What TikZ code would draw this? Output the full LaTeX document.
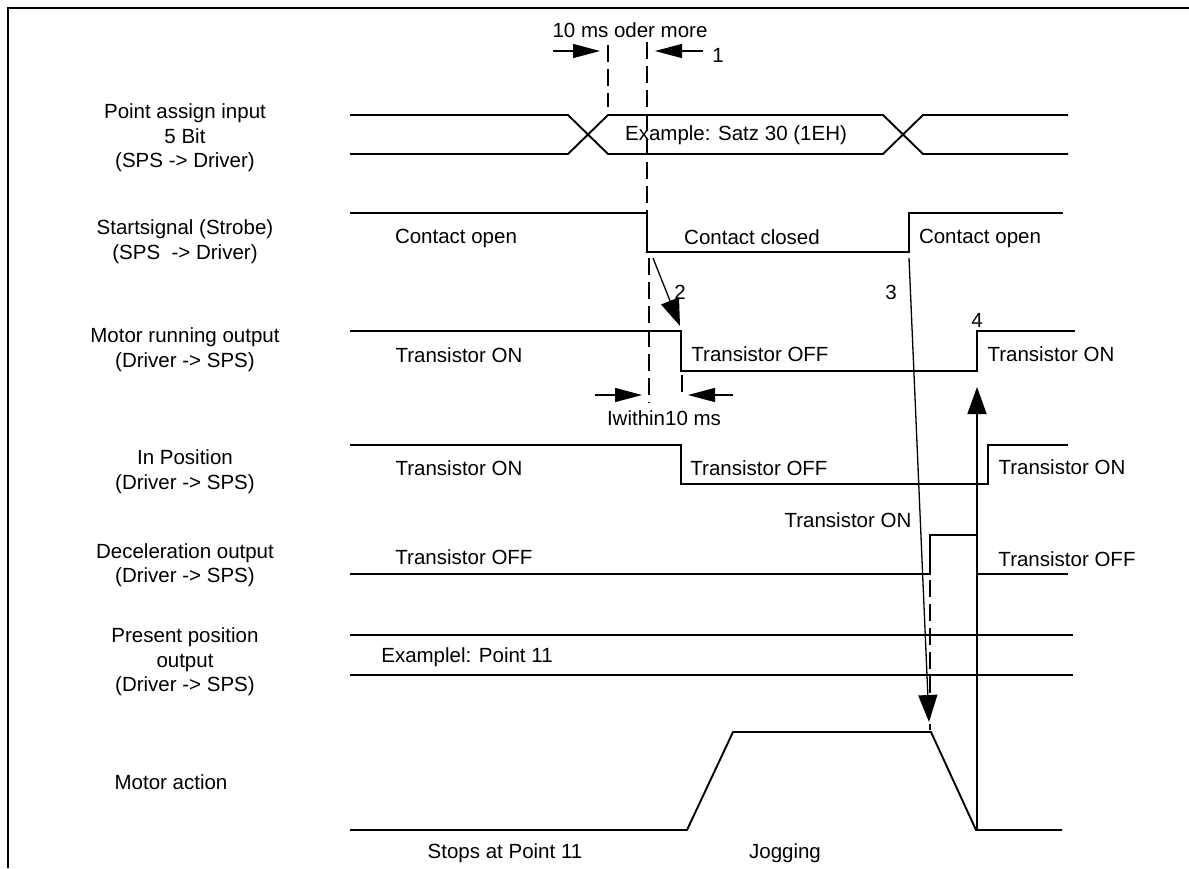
\documentclass[tikz,border=0pt]{standalone}
\usepackage{fontspec}
\setmainfont{Liberation Sans}
\usetikzlibrary{arrows.meta}
\begin{document}
\begin{tikzpicture}[x=1pt,y=-1pt,
  sig/.style={line width=1.9pt, line join=miter},
  thinline/.style={line width=1.3pt},
  dsh/.style={line width=1.4pt, dash pattern=on 17pt off 7pt},
  lbl/.style={font=\fontsize{20.5}{24.5}\selectfont, align=center, inner sep=0pt},
  txt/.style={font=\fontsize{20.5}{24.5}\selectfont, inner sep=0pt},
  vtip/.style={-{Triangle[length=27pt,width=19pt]}},
  htip/.style={-{Triangle[length=27pt,width=14pt]}},
]
\useasboundingbox (0,0) rectangle (1189,868);
\fill[white] (0,0) rectangle (1189,868);
% frame
\draw[line width=2pt] (8,868) -- (8,8) -- (1189,8);

% left labels
\node[lbl] (l1) at (185,138) {Point assign input\\5 Bit\\(SPS -> Driver)};
\node[lbl] (l2) at (185,241.5) {Startsignal (Strobe)\\(SPS~ -> Driver)};
\node[lbl] (l3) at (185,349.5) {Motor running output\\(Driver -> SPS)};
\node[lbl] (l4) at (185,471.5) {In Position\\(Driver -> SPS)};
\node[lbl] (l5) at (185,565) {Deceleration output\\(Driver -> SPS)};
\node[lbl] (l6) at (185,662) {Present position\\output\\(Driver -> SPS)};
\node[lbl] (l7) at (171,782) {Motor action};

% point assign bus
\draw[sig] (350,115) -- (568,115) -- (608,154) -- (883,154) -- (923,115) -- (1068,115);
\draw[sig] (350,154) -- (568,154) -- (608,115) -- (883,115) -- (923,154) -- (1068,154);
\node[txt] (bus) at (736,135) {Example: Satz 30 (1EH)};

% startsignal
\draw[sig] (350,213) -- (647,213) -- (647,252) -- (909,252) -- (909,213) -- (1063,213);
\node[txt] (s1) at (456,238) {Contact open};
\node[txt] (s2) at (752,237) {Contact closed};
\node[txt] (s3) at (980,238) {Contact open};

% motor running
\draw[sig] (350,331) -- (681,331) -- (681,371) -- (977,371) -- (977,331) -- (1075,331);
\node[txt] (m1) at (459,355) {Transistor ON};
\node[txt] (m2) at (760,354) {Transistor OFF};
\node[txt] (m3) at (1051,354) {Transistor ON};

% in position
\draw[sig] (350,445) -- (681,445) -- (681,484) -- (988,484) -- (988,445) -- (1068,445);
\node[txt] (p1) at (459,468) {Transistor ON};
\node[txt] (p2) at (759,468) {Transistor OFF};
\node[txt] (p3) at (1062,467) {Transistor ON};

% deceleration
\draw[sig] (350,574) -- (930,574) -- (930,535) -- (977,535) -- (977,574) -- (1068,574);
\node[txt] (d0) at (848,520) {Transistor ON};
\node[txt] (d1) at (464,557) {Transistor OFF};
\node[txt] (d2) at (1067,559) {Transistor OFF};

% present position
\draw[sig] (350,635) -- (1073,635);
\draw[sig] (350,675) -- (1073,675);
\node[txt] (pp) at (467,657) {Examplel: Point 11};

% motor action
\draw[sig] (350,830) -- (687,830) -- (733,732) -- (931,732) -- (976,830) -- (1062,830);
\node[txt] (ma1) at (505,853) {Stops at Point 11};
\node[txt] (ma2) at (785,853) {Jogging};

% coordinates for connectors
\coordinate (a2s) at (653,258);
\coordinate (a2e) at (680,326);
\coordinate (a3s) at (909,258);
\coordinate (a3e) at (929,722);
\coordinate (a4s) at (977,830);
\coordinate (a4e) at (977,387);

% dashed lines
\draw[dsh] (608,45) -- (608,107);
\draw[dsh] (647,42) -- (647,213);
\draw[dsh] (649,258) -- (649,403);
\draw[dsh] (682,375) -- (682,398);
\draw[dsh] (930,580) -- (930,730);

% arrows
\draw[thinline,vtip] (a2s) -- (a2e);
\draw[thinline,vtip] (a3s) -- (a3e);
\draw[line width=1.7pt,vtip] (a4s) -- (a4e);

\draw[thinline,htip] (553,51) -- (600,51);
\draw[thinline,htip] (703,51) -- (655,51);
\draw[thinline,htip] (595,395) -- (642,395);
\draw[thinline,htip] (733,395) -- (688,395);

% annotations
\node[txt] (t10) at (630,30) {10 ms oder more};
\node[txt] (n1) at (718,55) {1};
\node[txt] (tw) at (664,418) {Iwithin10 ms};
\node[txt] (n2) at (680,292) {2};
\node[txt] (n3) at (891,292) {3};
\node[txt] (n4) at (977,320) {4};
\end{tikzpicture}
\end{document}
